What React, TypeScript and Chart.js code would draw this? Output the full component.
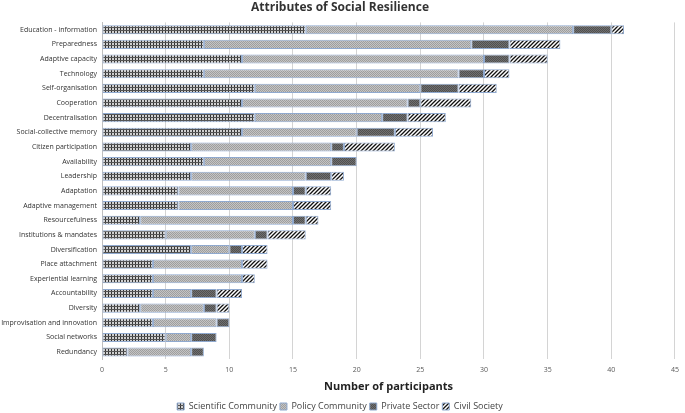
import React, { useEffect, useRef } from "react";
import { Chart, registerables } from "chart.js";

Chart.register(...registerables);

const categories = [
  "Education - information",
  "Preparedness",
  "Adaptive capacity",
  "Technology",
  "Self-organisation",
  "Cooperation",
  "Decentralisation",
  "Social-collective memory",
  "Citizen participation",
  "Availability",
  "Leadership",
  "Adaptation",
  "Adaptive management",
  "Resourcefulness",
  "Institutions & mandates",
  "Diversification",
  "Place attachment",
  "Experiential learning",
  "Accountability",
  "Diversity",
  "Improvisation and innovation",
  "Social networks",
  "Redundancy",
];

const scientificCommunity = [16, 8, 11, 8, 12, 11, 12, 11, 7, 8, 7, 6, 6, 3, 5, 7, 4, 4, 4, 3, 4, 5, 2];
const policyCommunity = [21, 21, 19, 20, 13, 13, 10, 9, 11, 10, 9, 9, 9, 12, 7, 3, 7, 7, 3, 5, 5, 2, 5];
const privateSector = [3, 3, 2, 2, 3, 1, 2, 3, 1, 2, 2, 1, 0, 1, 1, 1, 0, 0, 2, 1, 1, 2, 1];
const civilSociety = [1, 4, 3, 2, 3, 4, 3, 3, 4, 0, 1, 2, 3, 1, 3, 2, 2, 1, 2, 1, 0, 0, 0];

const seriesNames = ["Scientific Community", "Policy Community", "Private Sector", "Civil Society"];
const xTicks = [0, 5, 10, 15, 20, 25, 30, 35, 40, 45];

function makePattern(kind: string): CanvasPattern | string {
  const c = document.createElement("canvas");
  const ctx = c.getContext("2d");
  if (!ctx) return "#888";
  if (kind === "grid") {
    c.width = 3; c.height = 3;
    ctx.fillStyle = "#d0d0d0"; ctx.fillRect(0, 0, 3, 3);
    ctx.fillStyle = "#333333"; ctx.fillRect(0, 0, 1, 3);
    ctx.fillStyle = "#555555"; ctx.fillRect(0, 0, 3, 1);
  } else if (kind === "light") {
    c.width = 2; c.height = 2;
    ctx.fillStyle = "#c4c4c4"; ctx.fillRect(0, 0, 2, 2);
    ctx.fillStyle = "#9e9e9e"; ctx.fillRect(0, 0, 1, 1); ctx.fillRect(1, 1, 1, 1);
  } else if (kind === "dark") {
    c.width = 2; c.height = 2;
    ctx.fillStyle = "#707070"; ctx.fillRect(0, 0, 2, 2);
    ctx.fillStyle = "#505050"; ctx.fillRect(0, 0, 1, 1); ctx.fillRect(1, 1, 1, 1);
  } else {
    c.width = 4; c.height = 4;
    ctx.fillStyle = "#ffffff"; ctx.fillRect(0, 0, 4, 4);
    ctx.strokeStyle = "#111111"; ctx.lineWidth = 1.3;
    ctx.beginPath();
    ctx.moveTo(-1, 5); ctx.lineTo(5, -1);
    ctx.moveTo(-1, 1); ctx.lineTo(1, -1);
    ctx.moveTo(3, 5); ctx.lineTo(5, 3);
    ctx.stroke();
  }
  const p = ctx.createPattern(c, "repeat");
  return p || "#888";
}

export default function App() {
  const ref = useRef<HTMLCanvasElement | null>(null);
  useEffect(() => {
    if (!ref.current) return;
    const fills = [makePattern("grid"), makePattern("light"), makePattern("dark"), makePattern("stripe")];
    const values = [scientificCommunity, policyCommunity, privateSector, civilSociety];
    const chart = new Chart(ref.current, {
      type: "bar",
      data: {
        labels: categories,
        datasets: seriesNames.map((name, i) => ({
          label: name,
          data: values[i].map((v) => (v === 0 ? null : v)),
          backgroundColor: fills[i] as any,
          borderColor: "#8fa9cf",
          borderWidth: 1,
          borderSkipped: false,
          barPercentage: 0.62,
          categoryPercentage: 1,
        })),
      },
      options: {
        indexAxis: "y",
        animation: false,
        responsive: false,
        maintainAspectRatio: false,
        layout: { padding: { left: 0, right: 5, top: 0, bottom: -8 } },
        plugins: {
          title: {
            display: true,
            text: "Attributes of Social Resilience",
            color: "#333333",
            font: { family: "Open Sans", size: 12, weight: "bold" },
            padding: { top: 0, bottom: 8 },
          },
          legend: {
            position: "bottom",
            labels: {
              boxWidth: 7,
              boxHeight: 7,
              padding: 3,
              color: "#444444",
              font: { family: "Open Sans", size: 9 },
            },
          },
          tooltip: { enabled: false },
        },
        scales: {
          x: {
            stacked: true,
            min: 0,
            max: 45,
            afterBuildTicks: (scale: any) => {
              scale.ticks = xTicks.map((v) => ({ value: v }));
            },
            ticks: {
              color: "#595959",
              font: { family: "Open Sans", size: 7 },
              padding: 6,
            },
            grid: { color: "#d4d4d4", lineWidth: 1, drawTicks: false },
            border: { display: false },
            title: {
              display: true,
              text: "Number of participants",
              color: "#222222",
              font: { family: "Open Sans", size: 11, weight: "bold" },
              padding: { top: 0, bottom: 6 },
            },
          },
          y: {
            stacked: true,
            afterFit: (scale: any) => {
              scale.width = 102;
            },
            ticks: {
              color: "#333333",
              font: { family: "Open Sans", size: 7 },
              padding: 5,
              autoSkip: false,
            },
            grid: { display: false, drawTicks: false },
            border: { display: true, color: "#bfbfbf" },
          },
        },
      },
    });
    return () => chart.destroy();
  }, []);
  return (
    <div style={{ position: "fixed", left: 0, top: 0, width: 685, height: 413, background: "#fff" }}>
      <canvas ref={ref} width={685} height={413} style={{ width: 685, height: 413 }} />
    </div>
  );
}
